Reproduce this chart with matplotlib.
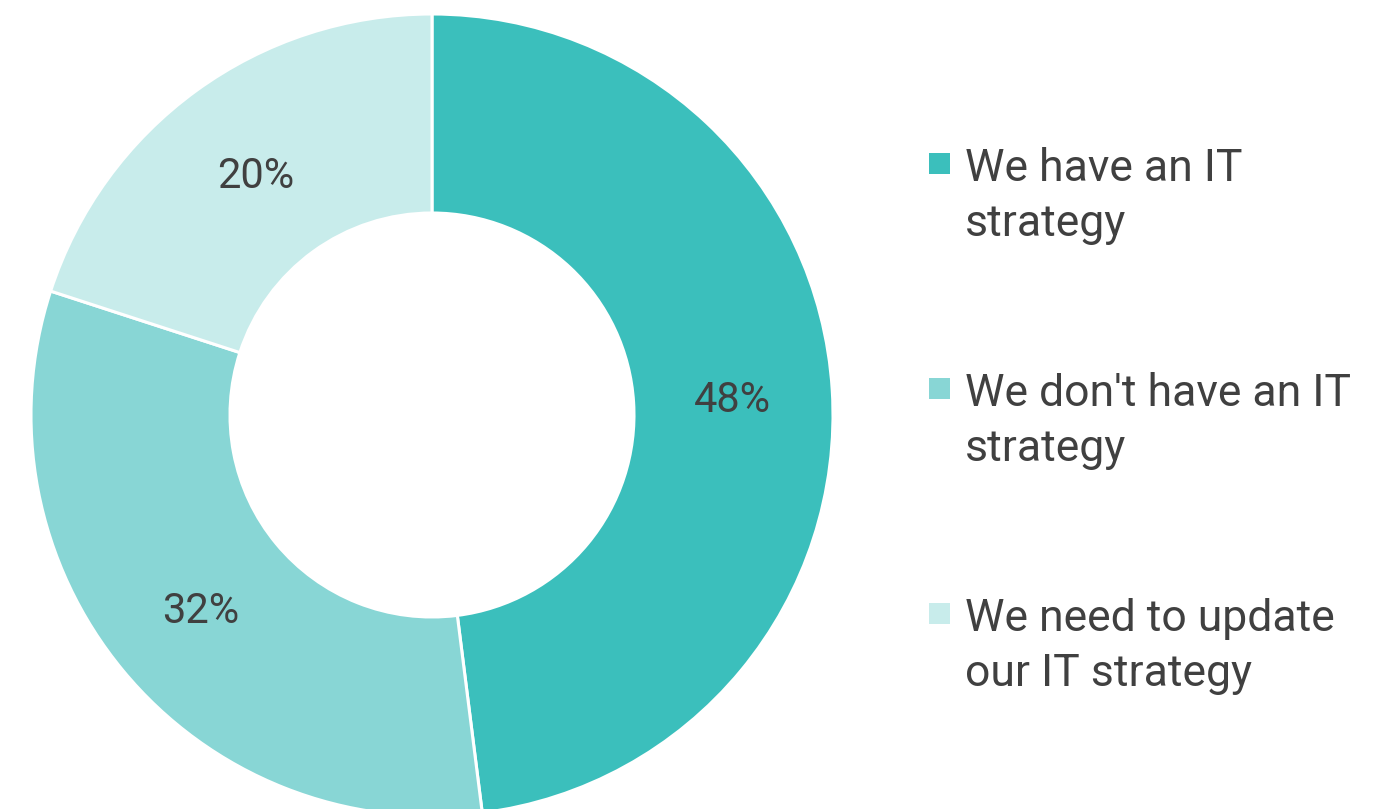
import matplotlib
matplotlib.use("Agg")
import matplotlib.pyplot as plt
from matplotlib.patches import Rectangle

labels = ["We have an IT\nstrategy", "We don't have an IT\nstrategy", "We need to update\nour IT strategy"]
values = [48, 32, 20]
colors = ["#3BBFBC", "#88D6D5", "#C8ECEB"]

plt.rcParams['font.family'] = ['Roboto', 'DejaVu Sans']
text_color = "#404040"

W, H = 1394, 809
fig = plt.figure(figsize=(W / 100, H / 100), dpi=100)
ax = fig.add_axes([0, 0, 1, 1])

wedges, texts, autotexts = ax.pie(
    values, colors=colors, startangle=90, counterclock=False,
    center=(432, H - 415), radius=401, frame=True,
    autopct=lambda p: f"{p:.0f}%", pctdistance=0.75,
    wedgeprops=dict(width=199, edgecolor='white', linewidth=2.2),
    textprops=dict(color=text_color, fontsize=30, fontweight='normal'))
for t in autotexts:
    t.set_va('center_baseline')
ax.set_xlim(0, W)
ax.set_ylim(0, H)
ax.set_aspect('equal')
ax.axis('off')

# legend (baseline of the last line of each entry, in pixels from top)
last_baselines = [236, 461, 686]
for lab, col, yb in zip(labels, colors, last_baselines):
    ax.add_patch(Rectangle((929, H - yb + 58 + 4), 21, 21, facecolor=col, edgecolor='none'))
    ax.text(965, H - yb, lab, fontsize=32, fontweight='normal', color=text_color,
            va='baseline', ha='left', linespacing=1.38)

fig.savefig("out.png", dpi=100)
